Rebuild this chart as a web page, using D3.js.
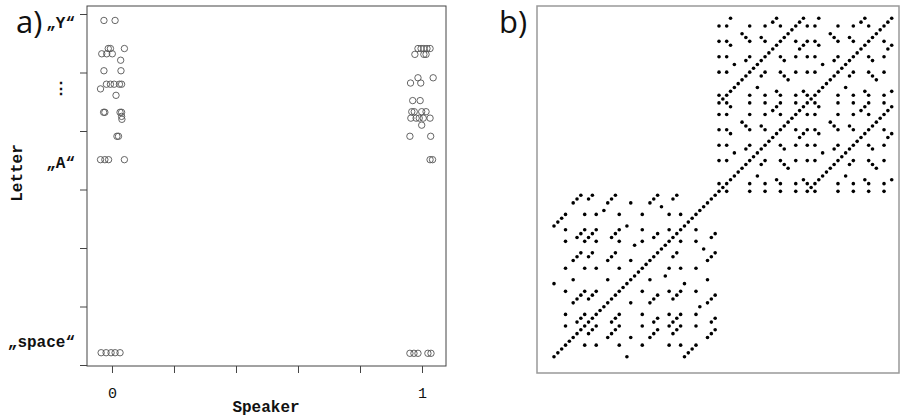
<!DOCTYPE html>
<html>
<head>
<meta charset="utf-8">
<script src="https://cdnjs.cloudflare.com/ajax/libs/d3/7.8.5/d3.min.js"></script>
<style>
  body { margin: 0; background: #fff; }
  svg text { font-family: "Liberation Mono", "Courier New", monospace; fill: #111; }
</style>
</head>
<body>
<script>
// ---- panel a: letter code (ASCII) against speaker, jittered ----
const speaker0X = [-0.026, 0.010, -0.012, -0.005, 0.040, -0.033, -0.017, 0.001, 0.028, -0.026, 0.029,
  -0.018, -0.005, 0.007, 0.024, 0.031, -0.037, 0.013, -0.027, -0.023, 0.026, 0.031, 0.031, 0.032,
  0.016, 0.021, -0.037, -0.023, -0.011, 0.040, -0.035, -0.019, -0.003, 0.010, 0.026];
const speaker0Y = [88.9, 88.9, 84.1, 84.1, 84.1, 83.2, 83.2, 83.2, 82.1, 80.3, 80.3,
  78.0, 78.0, 78.0, 78.0, 78.0, 77.2, 76.1, 73.2, 73.2, 73.2, 73.2, 72.5, 72.0,
  69.1, 69.1, 65.1, 65.1, 65.1, 65.1, 32.1, 32.1, 32.1, 32.1, 32.1];
const speaker1X = [0.987, 0.997, 1.006, 1.016, 1.026, 0.977, 1.006, 1.013, 0.987, 1.036, 0.963,
  0.996, 0.970, 0.994, 0.967, 0.975, 0.999, 1.013, 0.964, 0.981, 0.991, 1.004, 1.026, 0.999,
  0.961, 1.028, 1.026, 1.034, 0.961, 0.974, 0.987, 1.019, 1.029];
const speaker1Y = [84.1, 84.1, 84.1, 84.1, 84.1, 83.1, 83.1, 83.1, 79.1, 79.1, 78.2,
  78.2, 75.2, 75.2, 73.3, 73.3, 73.3, 73.3, 72.2, 72.2, 72.2, 72.2, 72.2, 71.0,
  69.1, 69.1, 65.1, 65.1, 32.0, 32.0, 32.0, 32.0, 32.0];
const letterTicks = [30, 40, 50, 60, 70, 80, 90];
const speakerTicks = [0, 0.2, 0.4, 0.6, 0.8, 1];
const letterLabels = ["„space“", "„A“", "⋮", "„Y“"];
const letterLabelCodes = [32, 65, 77, 89];

// ---- panel b: symbol sequence per speaker, a dot wherever two symbols match ----
// symbols read off the repeat structure of the plot (43 + 46 steps)
const speaker0Seq = "TYP RAIN IN MHAIN LTASO UAINES IN TYP HEAIN";
const speaker1Seq = " A NIGHT KIT SON THE ON A NIGHT KIT SON THE ON";

const W = 901, H = 417;
const svg = d3.select("body").append("svg").attr("width", W).attr("height", H);

// ================= panel a =================
const x = d3.scaleLinear().domain([-0.0806, 1.0774]).range([87, 446]);
const y = d3.scaleLinear().domain([29.83, 91.37]).range([366, 6]);

const ga = svg.append("g");
ga.append("rect")
  .attr("x", 87).attr("y", 6).attr("width", 446 - 87).attr("height", 366 - 6)
  .attr("fill", "none").attr("stroke", "#444").attr("stroke-width", 1);

const yAxis = ga.append("g").attr("transform", "translate(87,0)")
  .call(d3.axisLeft(y).tickValues(letterTicks).tickSize(7).tickFormat(""));
yAxis.select(".domain").remove();
yAxis.selectAll("line").attr("stroke", "#444");

const xAxis = ga.append("g").attr("transform", "translate(0,366)")
  .call(d3.axisBottom(x).tickValues(speakerTicks).tickSize(7).tickPadding(14)
    .tickFormat(d => (d === 0 || d === 1) ? d : ""));
xAxis.select(".domain").remove();
xAxis.selectAll("line").attr("stroke", "#444");
xAxis.selectAll("text").attr("font-size", 15)
  .style("font-family", '"Liberation Mono", "Courier New", monospace').attr("fill", "#111");

const pts = speaker0X.map((d, i) => ({x: d, y: speaker0Y[i]}))
  .concat(speaker1X.map((d, i) => ({x: d, y: speaker1Y[i]})));
ga.selectAll("circle.pt").data(pts).enter().append("circle")
  .attr("class", "pt")
  .attr("cx", d => x(d.x)).attr("cy", d => y(d.y)).attr("r", 3.2)
  .attr("fill", "none").attr("stroke", "#555").attr("stroke-width", 0.9);

// letter labels on the left
const labelShift = {"„space“": -6, "„A“": 8, "⋮": 4, "„Y“": 8};
ga.selectAll("text.lab").data(letterLabels).enter().append("text")
  .attr("class", "lab")
  .attr("x", 75).attr("y", (d, i) => y(letterLabelCodes[i]) + labelShift[d])
  .attr("text-anchor", d => d === "⋮" ? "middle" : "end")
  .attr("dx", d => d === "⋮" ? -14 : 0)
  .attr("font-size", 16).attr("font-weight", "bold")
  .text(d => d);

ga.append("text").attr("x", 266).attr("y", 412).attr("text-anchor", "middle")
  .attr("font-size", 16).attr("font-weight", "bold").text("Speaker");
ga.append("text").attr("transform", "translate(22,173) rotate(-90)").attr("text-anchor", "middle")
  .attr("font-size", 16).attr("font-weight", "bold").text("Letter");

svg.append("text").attr("x", 16).attr("y", 33).attr("font-size", 31)
  .style("font-family", '"Open Sans", "Noto Sans", sans-serif').text("a)");
svg.append("text").attr("x", 499).attr("y", 33).attr("font-size", 31)
  .style("font-family", '"Open Sans", "Noto Sans", sans-serif').text("b)");

// ================= panel b =================
const seq = speaker0Seq.split("").map(c => "0" + c)
  .concat(speaker1Seq.split("").map(c => "1" + c));
const N = seq.length;
const cells = [];
seq.forEach((a, i) => seq.forEach((b, j) => { if (a === b) cells.push({i, j}); }));

const bx = d3.scaleLinear().domain([0, N - 1]).range([554, 891.7]);
const by = d3.scaleLinear().domain([0, N - 1]).range([356.7, 18.3]);

const gb = svg.append("g");
gb.append("rect")
  .attr("x", 537).attr("y", 6).attr("width", 899 - 537).attr("height", 373 - 6)
  .attr("fill", "none").attr("stroke", "#999").attr("stroke-width", 1.5);
gb.selectAll("circle").data(cells).enter().append("circle")
  .attr("cx", d => bx(d.i)).attr("cy", d => by(d.j)).attr("r", 1.8)
  .attr("fill", "#000");
</script>
</body>
</html>
